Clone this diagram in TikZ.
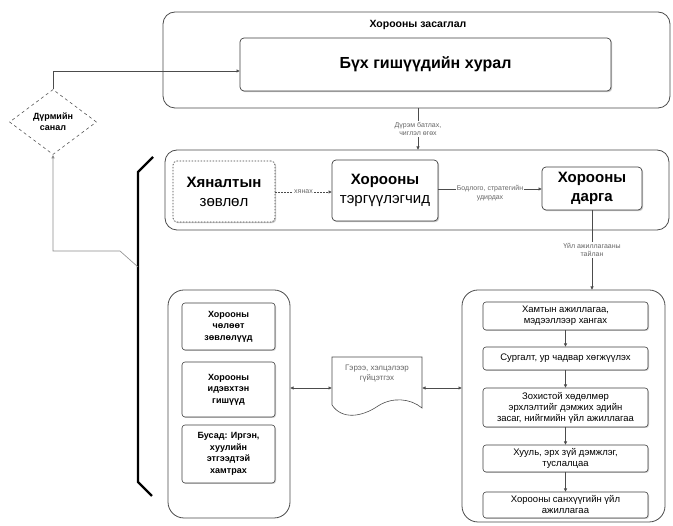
\documentclass[tikz,border=0pt]{standalone}
\usepackage{fontspec}
\setmainfont{Liberation Sans}
\usetikzlibrary{shapes.geometric,arrows.meta,shadows,calc}
\begin{document}
\begin{tikzpicture}[x=1pt,y=-1pt,
  grp/.style={draw=black!70, rounded corners=12pt, line width=0.8pt, inner sep=0pt, outer sep=0pt},
  box/.style={draw=black!75, rounded corners=4pt, fill=white, line width=0.7pt, inner sep=1pt, outer sep=0pt, align=center,
    drop shadow={shadow xshift=1.2pt, shadow yshift=-1.2pt, opacity=0.35, fill=black!60}},
  sbox/.style={draw=black!75, rounded corners=3pt, fill=white, line width=0.6pt, inner sep=1pt, outer sep=0pt, align=center,
    font=\fontsize{9.5}{11}\selectfont,
    drop shadow={shadow xshift=1pt, shadow yshift=-1pt, opacity=0.3, fill=black!60}},
  lbox/.style={sbox, font=\bfseries\fontsize{9}{11.5}\selectfont},
  lbl/.style={font=\fontsize{7}{8.5}\selectfont, text=black!60, align=center, fill=white, inner sep=1pt},
  arr/.style={-{Latex[length=3.5pt,width=3.5pt]}, draw=black!70, line width=0.6pt},
  darr/.style={{Latex[length=3.5pt,width=3.5pt]}-{Latex[length=3.5pt,width=3.5pt]}, draw=black!70, line width=0.6pt}
]
\useasboundingbox (0,0) rectangle (673,526);
\fill[white] (0,0) rectangle (673,526);

% governance
\node[grp, minimum width=507pt, minimum height=96pt] (zas) at (416.5,60) {};
\node[font=\bfseries\fontsize{10.5}{12}\selectfont] (zast) at (418,25) {Хорооны засаглал};
\node[box, minimum width=371pt, minimum height=53pt, font=\bfseries\fontsize{16}{19}\selectfont] (hural) at (425.5,64.5) {Бүх гишүүдийн хурал};

% diamond
\node[diamond, draw=black!65, dashed, line width=0.6pt, minimum width=87pt, minimum height=65pt, inner sep=0pt, align=center,
  font=\bfseries\fontsize{9}{11}\selectfont, fill=white] (dia) at (53,122) {Дүрмийн\\санал};
\coordinate (hin) at ($(hural.west)+(0,6.5)$);
\draw[arr] (dia.north) |- (hin);

% middle group
\node[grp, minimum width=504pt, minimum height=80pt] (mid) at (417,190) {};
\node[box, dash pattern=on 1.5pt off 1.5pt, minimum width=102pt, minimum height=61pt, font=\fontsize{15}{19}\selectfont] (hyan) at (224,191.5) {\textbf{Хяналтын}\\зөвлөл};
\node[box, minimum width=106pt, minimum height=61pt, font=\fontsize{15}{19}\selectfont] (terg) at (385,190.5) {\textbf{Хорооны}\\тэргүүлэгчид};
\node[box, minimum width=100pt, minimum height=43pt, font=\bfseries\fontsize{15}{19}\selectfont] (darga) at (592,188.5) {Хорооны\\дарга};

\draw[arr, dash pattern=on 1.5pt off 1.5pt] ($(hyan.east)+(0,0.5)$) -- node[lbl] {хянах} ($(terg.west)+(0,1.5)$);
\draw[arr] ($(terg.east)+(0,-1.5)$) -- node[lbl, yshift=-4pt] {Бодлого, стратегийн\\удирдах} ($(darga.west)+(0,0.5)$);

\draw[arr] (zas.south -| 418,0) -- node[lbl] {Дүрэм батлах,\\чиглэл өгөх} (mid.north -| 418,0);

% bracket
\coordinate (b1) at (153,157);
\coordinate (b2) at (138,172);
\coordinate (b3) at (138,482);
\coordinate (b4) at (152,496);
\coordinate (bm) at (138,267);
\draw[line width=2.2pt, black] (b1) -- (b2) -- (b3) -- (b4);
\draw[arr, draw=black!45] (bm) -- (120,251) -| (dia.south);

% left group
\node[grp, rounded corners=16pt, minimum width=122pt, minimum height=228pt] (lgrp) at (229,404) {};
\node[lbox, minimum width=93pt, minimum height=47pt] (l1) at (228.5,326.5) {Хорооны\\чөлөөт\\зөвлөлүүд};
\node[lbox, minimum width=93pt, minimum height=55pt] (l2) at (228.5,389.5) {Хорооны\\идэвхтэн\\гишүүд};
\node[lbox, minimum width=93pt, minimum height=58pt] (l3) at (228.5,454) {Бусад: Иргэн,\\хуулийн\\этгээдтэй\\хамтрах};

% document
\node[minimum width=90pt, minimum height=52pt, inner sep=0pt, outer sep=0pt] (doc) at (377,383) {};
\draw[black!70, line width=0.6pt, fill=white] (doc.north west) -- (doc.north east) -- ($(doc.south east)+(0,-1)$)
  .. controls (410,398) and (392,397) .. (378,406)
  .. controls (362,417) and (342,420) .. ($(doc.south west)+(0,-4)$) -- cycle;
\node[font=\fontsize{8}{10}\selectfont, text=black!60, align=center] at (377,374) {Гэрээ, хэлцэлээр\\гүйцэтгэх};

% right group
\node[grp, rounded corners=16pt, minimum width=203pt, minimum height=232pt] (rgrp) at (563.5,406) {};
\node[sbox, minimum width=165pt, minimum height=28pt] (r1) at (565.5,316) {Хамтын ажиллагаа,\\мэдээллээр хангах};
\node[sbox, minimum width=165pt, minimum height=23pt] (r2) at (565.5,358.5) {Сургалт, ур чадвар хөгжүүлэх};
\node[sbox, minimum width=165pt, minimum height=39pt] (r3) at (565.5,407.5) {Зохистой хөдөлмөр\\эрхлэлтийг дэмжих эдийн\\засаг, нийгмийн үйл ажиллагаа};
\node[sbox, minimum width=165pt, minimum height=27pt] (r4) at (565.5,458.5) {Хууль, эрх зүй дэмжлэг,\\туслалцаа};
\node[sbox, minimum width=165pt, minimum height=26pt] (r5) at (565.5,505) {Хорооны санхүүгийн үйл\\ажиллагаа};
\draw[arr] (r1) -- (r2);
\draw[arr] (r2) -- (r3);
\draw[arr] (r3) -- (r4);
\draw[arr] (r4) -- (r5);

\draw[arr] (darga.south) -- node[lbl] {Үйл ажиллагааны\\тайлан} (darga.south |- rgrp.north);

\draw[darr] (lgrp.east |- 0,388) -- (doc.west |- 0,388);
\draw[darr] (doc.east |- 0,388) -- (rgrp.west |- 0,388);
\end{tikzpicture}
\end{document}
